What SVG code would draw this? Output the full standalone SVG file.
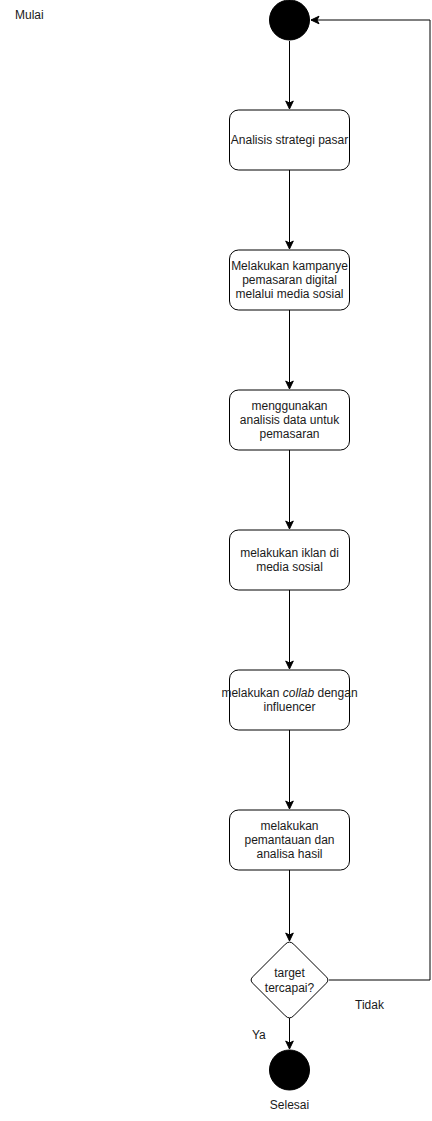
<svg xmlns="http://www.w3.org/2000/svg" width="432" height="1121" viewBox="0 0 432 1121">
  <style>
    .box { fill: #ffffff; stroke: #000000; stroke-width: 1; }
    .dot { fill: #000000; stroke: #000000; stroke-width: 1; }
    .edge { fill: none; stroke: #000000; stroke-width: 1; }
    .lbl { font-family: "Liberation Sans", Arial, sans-serif; font-size: 12px; fill: #1a1a1a; }
    .mid { text-anchor: middle; }
  </style>
  <defs>
    <marker id="arrow" viewBox="0 0 10 10" refX="9" refY="5" markerWidth="10" markerHeight="10" markerUnits="userSpaceOnUse" orient="auto">
      <path d="M1,1.2 L9,5 L1,8.8 L3,5 Z" fill="#000000" stroke="#000000" stroke-width="1"/>
    </marker>
  </defs>

  <text class="lbl" x="15" y="19">Mulai</text>

  <g id="connectors">
    <path class="edge" d="M289.5,41 V109" marker-end="url(#arrow)"/>
    <path class="edge" d="M289.5,170 V249" marker-end="url(#arrow)"/>
    <path class="edge" d="M289.5,310 V389" marker-end="url(#arrow)"/>
    <path class="edge" d="M289.5,450 V529" marker-end="url(#arrow)"/>
    <path class="edge" d="M289.5,590 V669" marker-end="url(#arrow)"/>
    <path class="edge" d="M289.5,730 V809" marker-end="url(#arrow)"/>
    <path class="edge" d="M289.5,870 V941" marker-end="url(#arrow)"/>
    <path class="edge" d="M289.5,1018 V1049" marker-end="url(#arrow)"/>
    <path class="edge" d="M329,980 H430 V20 H311" marker-end="url(#arrow)"/>
    <text class="lbl" x="355" y="1009">Tidak</text>
    <text class="lbl" x="252" y="1039">Ya</text>
  </g>

  <g id="start">
    <circle class="dot" cx="289.5" cy="20" r="20"/>
  </g>

  <g id="step1">
    <rect class="box" x="229.5" y="110" width="120" height="60" rx="9"/>
    <text class="lbl mid" x="289.5" y="144">Analisis strategi pasar</text>
  </g>

  <g id="step2">
    <rect class="box" x="229.5" y="250" width="120" height="60" rx="9"/>
    <text class="lbl mid" x="289.5" y="270">Melakukan kampanye</text>
    <text class="lbl mid" x="289.5" y="284">pemasaran digital</text>
    <text class="lbl mid" x="289.5" y="298">melalui media sosial</text>
  </g>

  <g id="step3">
    <rect class="box" x="229.5" y="390" width="120" height="60" rx="9"/>
    <text class="lbl mid" x="289.5" y="410">menggunakan</text>
    <text class="lbl mid" x="289.5" y="424">analisis data untuk</text>
    <text class="lbl mid" x="289.5" y="438">pemasaran</text>
  </g>

  <g id="step4">
    <rect class="box" x="229.5" y="530" width="120" height="60" rx="9"/>
    <text class="lbl mid" x="289.5" y="557">melakukan iklan di</text>
    <text class="lbl mid" x="289.5" y="571">media sosial</text>
  </g>

  <g id="step5">
    <rect class="box" x="229.5" y="670" width="120" height="60" rx="9"/>
    <text class="lbl mid" x="289.5" y="697">melakukan <tspan font-style="italic">collab</tspan> dengan</text>
    <text class="lbl mid" x="289.5" y="711">influencer</text>
  </g>

  <g id="step6">
    <rect class="box" x="229.5" y="810" width="120" height="60" rx="9"/>
    <text class="lbl mid" x="289.5" y="830">melakukan</text>
    <text class="lbl mid" x="289.5" y="844">pemantauan dan</text>
    <text class="lbl mid" x="289.5" y="858">analisa hasil</text>
  </g>

  <g id="decision">
    <path class="box" d="M285.3,944.2 Q289.5,940 293.7,944.2 L325.8,976.3 Q330,980 325.8,983.7 L293.7,1015.8 Q289.5,1020 285.3,1015.8 L253.2,983.7 Q249,980 253.2,976.3 Z"/>
    <text class="lbl mid" x="289.5" y="977">target</text>
    <text class="lbl mid" x="289.5" y="992">tercapai?</text>
  </g>

  <g id="end">
    <circle class="dot" cx="289.5" cy="1070" r="20"/>
    <text class="lbl mid" x="289.5" y="1109">Selesai</text>
  </g>
</svg>
